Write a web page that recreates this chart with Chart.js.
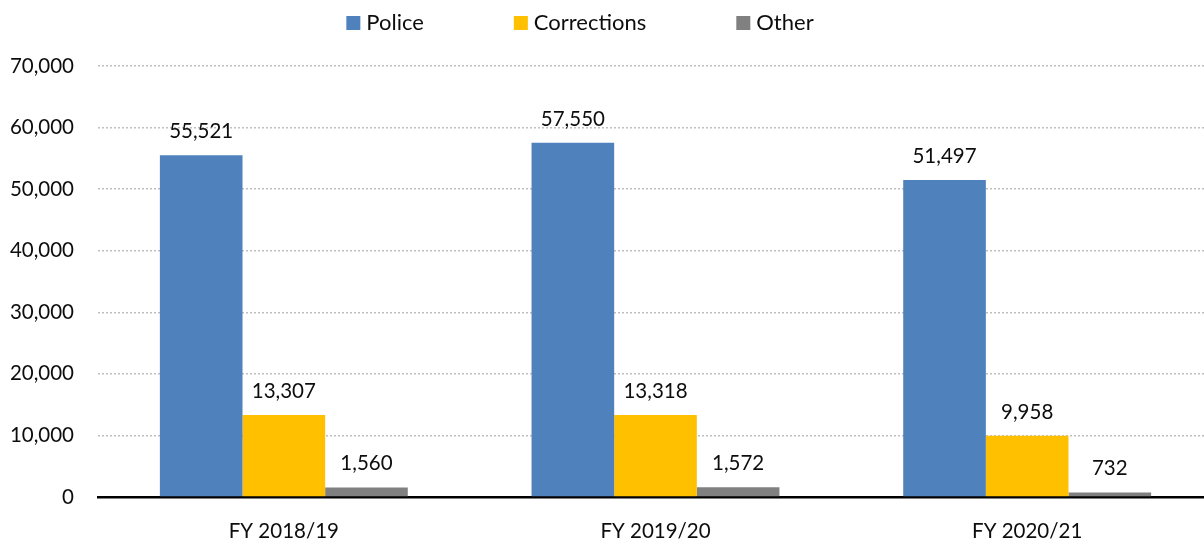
<!DOCTYPE html>
<html>
<head>
<meta charset="utf-8">
<style>
  html, body { margin: 0; padding: 0; background: #fff; overflow: hidden; }
  #wrap { width: 1213px; height: 540px; }
</style>
<script src="https://cdn.jsdelivr.net/npm/chart.js@4"></script>
</head>
<body>
<div id="wrap"><canvas id="bars"></canvas></div>
<script>
const years = ['FY 2018/19', 'FY 2019/20', 'FY 2020/21'];
const police = [55521, 57550, 51497];
const corrections = [13307, 13318, 9958];
const other = [1560, 1572, 732];
const yTicks = [0, 10000, 20000, 30000, 40000, 50000, 60000, 70000];

const FONT = 'Lato, "Open Sans", sans-serif';
const INK = '#0d0d0d';
const fmt = v => v.toLocaleString('en-US');

// value labels sitting just above each bar
const valueLabels = {
    id: 'valueLabels',
    afterDatasetsDraw(chart) {
        const ctx = chart.ctx;
        ctx.save();
        ctx.font = '20.5px ' + FONT;
        ctx.fillStyle = INK;
        ctx.textAlign = 'center';
        ctx.textBaseline = 'alphabetic';
        chart.data.datasets.forEach((ds, i) => {
            chart.getDatasetMeta(i).data.forEach((bar, j) => {
                ctx.fillText(fmt(ds.data[j]), bar.x, bar.y - 17);
            });
        });
        ctx.restore();
    }
};

// legend row across the top, wide gaps between entries
const topLegend = {
    id: 'topLegend',
    afterDraw(chart) {
        const ctx = chart.ctx;
        const box = 14, gap = 6, spacing = 90, centerX = 580, baseY = 30;
        ctx.save();
        ctx.font = '22px ' + FONT;
        const items = chart.data.datasets.map(ds => ({
            text: ds.label,
            color: ds.backgroundColor,
            w: box + gap + ctx.measureText(ds.label).width
        }));
        const total = items.reduce((s, it) => s + it.w, 0) + spacing * (items.length - 1);
        let x = centerX - total / 2;
        items.forEach(it => {
            ctx.fillStyle = it.color;
            ctx.fillRect(x, baseY - box, box, box);
            ctx.fillStyle = INK;
            ctx.textAlign = 'left';
            ctx.textBaseline = 'alphabetic';
            ctx.fillText(it.text, x + box + gap, baseY);
            x += it.w + spacing;
        });
        ctx.restore();
    }
};

const ctx = document.getElementById('bars').getContext('2d');
new Chart(ctx, {
    type: 'bar',
    data: {
        labels: years,
        datasets: [
            { label: 'Police', data: police, backgroundColor: '#4f81bd' },
            { label: 'Corrections', data: corrections, backgroundColor: '#ffc000' },
            { label: 'Other', data: other, backgroundColor: '#808080' }
        ]
    },
    options: {
        responsive: true,
        maintainAspectRatio: false,
        animation: false,
        layout: { padding: { top: 66, right: 0, left: 0, bottom: 0 } },
        datasets: {
            bar: { categoryPercentage: 0.667, barPercentage: 1.0, borderWidth: 0 }
        },
        plugins: {
            legend: { display: false },
            tooltip: { enabled: false }
        },
        scales: {
            x: {
                grid: { display: false },
                border: { display: true, color: '#000', width: 2.5 },
                ticks: {
                    color: INK,
                    font: { family: FONT, size: 20.5 },
                    padding: 14
                },
                afterFit(scale) { scale.height = 43; }
            },
            y: {
                min: 0,
                max: 70000,
                afterBuildTicks(scale) {
                    scale.ticks = yTicks.map(v => ({ value: v }));
                },
                grid: {
                    color: '#bfbfbf',
                    lineWidth: 1.5,
                    drawTicks: false
                },
                border: { display: false, dash: [2, 2] },
                ticks: {
                    color: INK,
                    font: { family: FONT, size: 20.5 },
                    padding: 24,
                    callback: v => fmt(v)
                },
                afterFit(scale) { scale.width = 98; }
            }
        }
    },
    plugins: [valueLabels, topLegend]
});
</script>
</body>
</html>
